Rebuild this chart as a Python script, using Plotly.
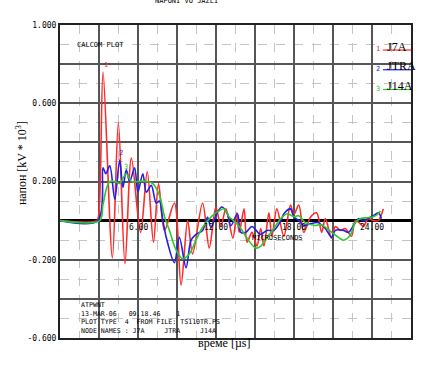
import plotly.graph_objects as go

# ---------------- data ----------------
series_names = ["J7A", "JTRA", "J14A"]
series_colors = ["#ff2a2a", "#2020e8", "#2ec82e"]

t_j7a = [0, 2.83, 2.98, 3.31, 4.03, 4.49, 5.00, 5.49, 6.20, 6.71, 7.19, 7.58, 8.04, 8.80,
         9.31, 9.82, 10.20, 10.97, 11.48, 11.99, 12.37, 12.76, 13.30, 13.60, 13.78, 14.16,
         14.39, 14.77, 15.15, 15.44, 15.69, 16.07, 16.30, 16.68, 17.22, 17.73, 17.98, 18.37,
         18.75, 19.29, 19.74, 20.13, 20.41, 20.89, 21.18, 21.58, 21.94, 22.42, 22.71, 23.09,
         23.34, 23.70, 24.11, 24.49, 24.72, 24.87]
v_j7a = [0, 0, 0.03, 0.76, -0.19, 0.50, -0.22, 0.32, -0.06, 0.25, -0.11, 0.19, -0.05, 0.09,
         -0.33, 0.00, -0.17, 0.09, -0.14, 0.07, -0.03, 0.06, -0.09, 0.04, -0.06, 0.06,
         -0.11, -0.06, -0.13, -0.04, -0.13, 0.04, -0.08, 0.06, -0.08, 0.08, 0.03, 0.08,
         -0.06, 0.02, 0.04, -0.06, 0.01, -0.09, -0.03, -0.05, -0.04, -0.08, 0.00, -0.015,
         -0.03, 0.01, 0.00, 0.00, 0.03, 0.06]

t_jtra = [0, 2.91, 3.31, 3.52, 3.83, 4.21, 4.59, 4.84, 5.10, 5.36, 5.74, 5.99, 6.37, 6.64,
          7.02, 7.40, 7.65, 7.88, 8.17, 8.80, 9.18, 9.70, 10.08, 10.46, 10.97, 11.35, 11.61,
          12.11, 12.45, 12.88, 13.14, 13.65, 13.91, 14.30, 14.77, 15.40, 15.92, 16.45, 16.99,
          17.22, 17.73, 17.98, 18.37, 18.75, 19.30, 19.82, 20.41, 20.89, 21.18, 21.81, 22.19,
          22.58, 22.96, 23.34, 23.65, 24.11, 24.49, 24.72]
v_jtra = [0, 0, 0.27, 0.24, 0.28, 0.11, 0.31, 0.17, 0.26, 0.20, 0.27, 0.145, 0.24, 0.145,
          0.18, 0.09, 0.10, 0.015, -0.085, -0.215, -0.085, -0.24, -0.10, -0.07, -0.05, 0.017,
          -0.034, 0.043, 0.07, 0.035, -0.026, 0.035, -0.06, -0.06, -0.03, -0.07, -0.05, -0.05,
          0.00, 0.035, 0.06, 0.02, 0.00, -0.025, -0.015, -0.01, -0.04, -0.085, -0.05, -0.05,
          -0.06, -0.025, 0.01, 0.00, 0.01, 0.025, 0.04, 0.01]

t_j14a = [0, 3.06, 3.30, 3.60, 3.83, 4.21, 4.59, 4.72, 5.10, 5.49, 5.99, 6.71, 7.12, 7.65,
          8.04, 8.42, 8.93, 9.44, 9.95, 10.46, 10.97, 11.73, 12.24, 12.63, 13.01, 13.52,
          13.91, 14.39, 15.05, 15.44, 15.92, 16.45, 16.97, 17.47, 18.00, 18.37, 18.88, 19.65,
          20.05, 21.05, 21.81, 22.32, 22.71, 23.09, 23.65, 24.11, 24.49, 24.64]
v_j14a = [0, 0, 0.08, 0.17, 0.20, 0.20, 0.19, 0.20, 0.24, 0.20, 0.20, 0.20, 0.19, 0.13,
          0.02, -0.05, -0.15, -0.195, -0.17, -0.10, -0.034, 0.026, 0.05, 0.06, 0.02, -0.01,
          -0.04, -0.09, -0.14, -0.13, -0.085, -0.04, 0.01, 0.035, 0.02, 0.025, -0.01, -0.025,
          -0.02, -0.067, -0.10, -0.075, -0.01, 0.01, 0.015, 0.02, 0.035, 0.05]

series_t = [t_j7a, t_jtra, t_j14a]
series_v = [v_j7a, v_jtra, v_j14a]
series_marks = ["1", "2", "3"]
# where the curve number labels sit (near each curve's first peak)
mark_x = [3.55, 4.70, 5.05]
mark_y = [0.795, 0.345, 0.275]

y_tickvals = [-0.6, -0.4, -0.2, 0.0, 0.2, 0.4, 0.6, 0.8, 1.0]
y_ticktext = ["-0.600", "", "-0.200", "", "0.200", "", "0.600", "", "1.000"]
x_inner_ticks = [6, 12, 18, 24]
x_inner_labels = ["6.00", "12.00", "18.00", "24.00"]

info_lines = ["ATPWNT",
              "13-MAR-06   09.18.46    1",
              "PLOT TYPE  4  FROM FILE: TS110TR.PS",
              "NODE NAMES : J7A     JTRA     J14A"]

MONO = "DejaVu Sans Mono"
SERIF = "Liberation Serif"

def nb(s):
    return s.replace(" ", "\u00a0")

fig = go.Figure()
for name, col, t, v in zip(series_names, series_colors, series_t, series_v):
    fig.add_trace(go.Scatter(x=t, y=v, mode="lines", name=name,
                             line=dict(color=col, width=1.6, shape="spline", smoothing=0.9),
                             showlegend=False))

ann = []
# inner x tick labels (just below zero line)
for xv, lab in zip(x_inner_ticks, x_inner_labels):
    ann.append(dict(x=xv, y=-0.036, xref="x", yref="y", text=lab, showarrow=False,
                    font=dict(family=MONO, size=8, color="black")))
ann.append(dict(x=16.7, y=-0.088, xref="x", yref="y", text="MICROSECONDS", showarrow=False,
                font=dict(family=MONO, size=7, color="black")))
ann.append(dict(x=3.15, y=0.9, xref="x", yref="y", text="CALCOM PLOT", showarrow=False,
                font=dict(family=MONO, size=7, color="black")))
# curve numbers
for m, mx, my, col in zip(series_marks, mark_x, mark_y, series_colors):
    ann.append(dict(x=mx, y=my, xref="x", yref="y", text=m, showarrow=False,
                    font=dict(family=MONO, size=7, color=col)))
# info block
for i, line in enumerate(info_lines):
    ann.append(dict(x=1.45, y=-0.432 - i * 0.044, xref="x", yref="y", text=nb(line),
                    showarrow=False, xanchor="left",
                    font=dict(family=MONO, size=6.6, color="black")))
# legend (number + name + underline)
for i, (name, col, m) in enumerate(zip(series_names, series_colors, series_marks)):
    yp = 0.95 - i * 0.063
    ann.append(dict(x=0.907, y=yp - 0.008, xref="paper", yref="paper", text=m, showarrow=False,
                    font=dict(family=MONO, size=7, color=col), xanchor="center"))
    ann.append(dict(x=0.925, y=yp + 0.01, xref="paper", yref="paper", text=name, showarrow=False,
                    xanchor="left", font=dict(family=SERIF, size=12, color="black")))
# title (clipped at top, as in the original)
ann.append(dict(x=0.36, y=1.077, xref="paper", yref="paper", text="NAPONI VO JAZLI",
                yanchor="middle", showarrow=False, font=dict(family=MONO, size=7, color="black")))
# axis titles
ann.append(dict(x=-0.11, y=0.56, xref="paper", yref="paper", xanchor="center", yanchor="middle",
                text="напон [kV * 10<sup>3</sup>]", textangle=-90, showarrow=False,
                font=dict(family=SERIF, size=12, color="black")))
ann.append(dict(x=0.47, y=-0.046, xref="paper", yref="paper", text="време [µs]",
                showarrow=False, font=dict(family=SERIF, size=12, color="black")))

shapes = []
for i, col in enumerate(series_colors):
    yp = 0.95 - i * 0.063 - 0.03
    shapes.append(dict(type="line", xref="paper", yref="paper", x0=0.92, x1=1.0, y0=yp, y1=yp,
                       line=dict(color=col, width=1.2)))

fig.update_layout(
    width=424, height=367,
    margin=dict(l=60, r=11, t=25, b=29),
    paper_bgcolor="white", plot_bgcolor="white",
    annotations=ann, shapes=shapes,
    xaxis=dict(range=[0, 27], dtick=3, tick0=0, showticklabels=False, ticks="",
               showgrid=True, gridcolor="#555555", gridwidth=1.5,
               zeroline=False, showline=True, linecolor="#222222", linewidth=2, mirror=True,
               minor=dict(dtick=1.5, tick0=0, showgrid=True, gridcolor="#c4c4c4",
                          griddash="dash", gridwidth=1)),
    yaxis=dict(range=[-0.6, 1.0], tickvals=y_tickvals, ticktext=y_ticktext, ticks="",
               tickfont=dict(family=MONO, size=8, color="black"),
               showgrid=True, gridcolor="#555555", gridwidth=1.5,
               zeroline=True, zerolinecolor="black", zerolinewidth=2.5,
               showline=True, linecolor="#222222", linewidth=2, mirror=True,
               minor=dict(dtick=0.1, tick0=0, showgrid=True, gridcolor="#c4c4c4",
                          griddash="dash", gridwidth=1)),
)

fig.write_html("out.html", config={"displayModeBar": False},
               post_script="document.body.style.margin='0';document.body.style.overflow='hidden';")
